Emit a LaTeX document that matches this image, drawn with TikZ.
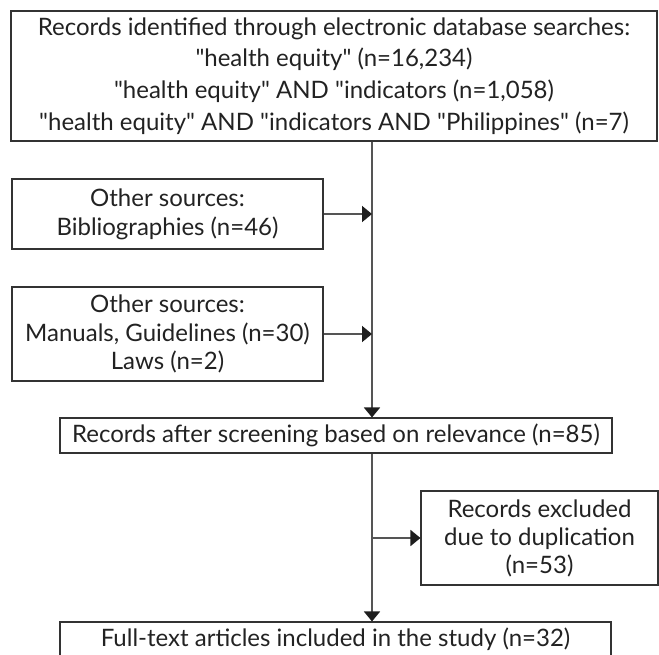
\documentclass[tikz,border=0pt]{standalone}
\usepackage{fontspec}
\setmainfont{Lato}[Ligatures=TeXOff]
\usetikzlibrary{arrows.meta}
\definecolor{boxline}{HTML}{333333}
\definecolor{connline}{HTML}{555555}
\definecolor{tipcol}{HTML}{1E1E1E}
\definecolor{txtcol}{HTML}{222222}
\tikzset{
  flowbox/.style={draw=boxline, line width=1.1pt, inner sep=0pt, align=center, text=txtcol, rectangle, font=\fontsize{24}{29}\selectfont},
  conn/.style={draw=connline, line width=1.8pt},
  arr/.style={conn, -{Triangle[length=10pt,width=16pt,color=tipcol]}},
}
\begin{document}
\begin{tikzpicture}[x=1pt,y=-1pt]
\useasboundingbox (0,0) rectangle (659,654);
\clip (0,0) rectangle (659,654);
\coordinate (spine) at (372,0);
\node[flowbox, minimum width=646pt, minimum height=130pt, font=\fontsize{24}{31.7}\selectfont] (b1) at (334,76)
  {Records identified through electronic database searches:\\
   "health equity" (n=16,234)\\
   "health equity" AND "indicators (n=1,058)\\
   "health equity" AND "indicators AND "Philippines" (n=7)};
\node[flowbox, minimum width=311pt, minimum height=70pt] (b2) at (167.5,214)
  {Other sources:\\Bibliographies (n=46)};
\node[flowbox, minimum width=311pt, minimum height=94pt, font=\fontsize{24}{28.5}\selectfont] (b3) at (167.5,334)
  {Other sources:\\Manuals, Guidelines (n=30)\\Laws (n=2)};
\node[flowbox, minimum width=552pt, minimum height=35pt] (b4) at (336,435.5)
  {Records after screening based on relevance (n=85)};
\node[flowbox, minimum width=237pt, minimum height=94pt, font=\fontsize{24}{28}\selectfont] (b5) at (539.5,538)
  {Records excluded\\due to duplication\\(n=53)};
\node[flowbox, minimum width=551pt, minimum height=35pt] (b6) at (335.5,639.5)
  {Full-text articles included in the study (n=32)};
\draw[arr] (b1.south -| spine) -- (b4.north -| spine);
\draw[arr] (b2.east) -- (b2.east -| spine);
\draw[arr] (b3.east) -- (b3.east -| spine);
\draw[arr] (b4.south -| spine) -- (b6.north -| spine);
\draw[arr] (b5.west -| spine) -- (b5.west);
\end{tikzpicture}
\end{document}
